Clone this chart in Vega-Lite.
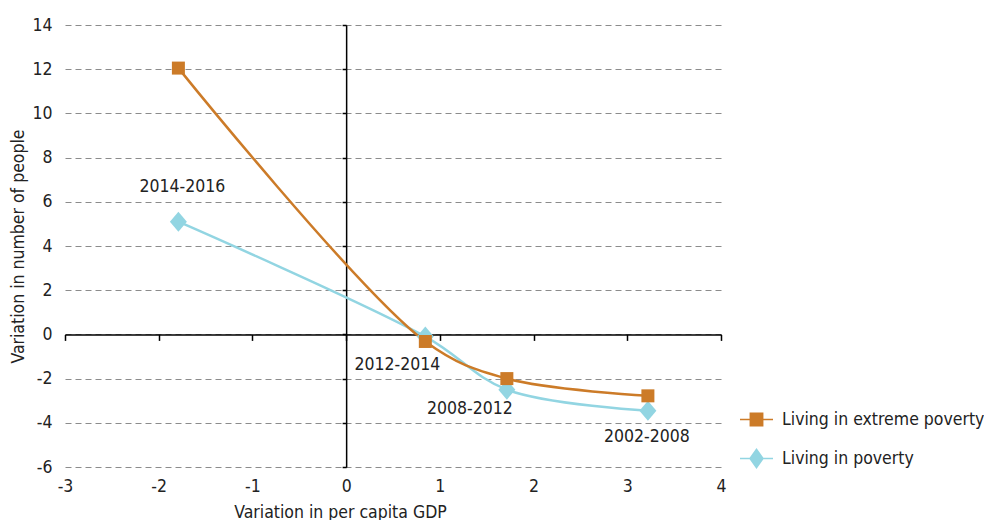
{
  "$schema": "https://vega.github.io/schema/vega-lite/v6.json",
  "width": 656,
  "height": 442,
  "autosize": "none",
  "padding": {"left": 65, "top": 25, "right": 263, "bottom": 53},
  "background": "white",
  "config": {
    "view": {"stroke": null},
    "font": "DejaVu Sans Condensed",
    "axis": {"labelFont": "DejaVu Sans Condensed", "titleFont": "DejaVu Sans Condensed", "labelColor": "#222222", "titleColor": "#222222", "titleFontWeight": "normal", "labelFlush": false, "labelOverlap": false},
    "legend": {"labelFont": "DejaVu Sans Condensed", "disable": false}
  },
  "data": {
    "values": [
      {"gdp": -1.79, "value": 5.1, "series": "Living in poverty", "period": "2014-2016"},
      {"gdp": 0.845, "value": -0.1, "series": "Living in poverty", "period": "2012-2014"},
      {"gdp": 1.715, "value": -2.5, "series": "Living in poverty", "period": "2008-2012"},
      {"gdp": 3.22, "value": -3.45, "series": "Living in poverty", "period": "2002-2008"},
      {"gdp": -1.79, "value": 12.05, "series": "Living in extreme poverty", "period": "2014-2016"},
      {"gdp": 0.845, "value": -0.32, "series": "Living in extreme poverty", "period": "2012-2014"},
      {"gdp": 1.715, "value": -2.0, "series": "Living in extreme poverty", "period": "2008-2012"},
      {"gdp": 3.22, "value": -2.78, "series": "Living in extreme poverty", "period": "2002-2008"}
    ]
  },
  "resolve": {"axis": {"x": "independent", "y": "independent"}},
  "layer": [
    {
      "layer": [
        {
          "mark": {"type": "line", "interpolate": "catmull-rom", "strokeWidth": 2.5},
          "encoding": {
            "x": {"field": "gdp", "type": "quantitative", "scale": {"domain": [-3, 4], "nice": false, "zero": false},
              "axis": {"title": "Variation in per capita GDP", "values": [-3, -2, -1, 0, 1, 2, 3, 4], "labelExpr": "'' + datum.value", "grid": false, "domain": false, "ticks": false, "labelPadding": 10, "labelFontSize": 17.5, "titleFontSize": 17.5, "titleX": 275, "titleY": 36, "titleBaseline": "top", "titleAlign": "center"}},
            "y": {"field": "value", "type": "quantitative", "scale": {"domain": [-6, 14], "nice": false, "zero": false},
              "axis": {"title": "Variation in number of people", "values": [-6, -4, -2, 0, 2, 4, 6, 8, 10, 12, 14], "labelExpr": "'' + datum.value", "grid": true, "gridColor": "#8c8c8c", "gridDash": [6, 4], "gridWidth": 1, "domain": false, "ticks": false, "labelPadding": 13, "labelFontSize": 17.5, "titleFontSize": 17.5, "titleX": -47, "titleY": 221, "titleAngle": -90, "titleBaseline": "middle", "titleAlign": "center"}},
            "stroke": {"field": "series", "type": "nominal", "scale": {"domain": ["Living in extreme poverty", "Living in poverty"], "range": ["#CC7B28", "#92D5E2"]},
              "legend": {"title": null, "orient": "none", "legendX": 675, "legendY": 378, "symbolSize": 1089, "symbolStrokeWidth": 0, "symbolOpacity": 1, "labelFontSize": 17.5, "labelOffset": 9, "rowPadding": 14, "labelColor": "#222222", "labelLimit": 400, "padding": 0}},
            "order": {"field": "gdp", "type": "quantitative"}
          }
        },
        {
          "transform": [{"filter": "datum.series == 'Living in poverty' && datum.period == '2014-2016'"}],
          "mark": {"type": "text", "fontSize": 17.5, "color": "#222222", "dx": 4, "dy": -35, "baseline": "middle", "align": "center"},
          "encoding": {
            "x": {"field": "gdp", "type": "quantitative"},
            "y": {"field": "value", "type": "quantitative"},
            "text": {"field": "period"}
          }
        },
        {
          "transform": [{"filter": "datum.series == 'Living in poverty' && datum.period == '2012-2014'"}],
          "mark": {"type": "text", "fontSize": 17.5, "color": "#222222", "dx": -28, "dy": 28, "baseline": "middle", "align": "center"},
          "encoding": {
            "x": {"field": "gdp", "type": "quantitative"},
            "y": {"field": "value", "type": "quantitative"},
            "text": {"field": "period"}
          }
        },
        {
          "transform": [{"filter": "datum.series == 'Living in poverty' && datum.period == '2008-2012'"}],
          "mark": {"type": "text", "fontSize": 17.5, "color": "#222222", "dx": -37, "dy": 19, "baseline": "middle", "align": "center"},
          "encoding": {
            "x": {"field": "gdp", "type": "quantitative"},
            "y": {"field": "value", "type": "quantitative"},
            "text": {"field": "period"}
          }
        },
        {
          "transform": [{"filter": "datum.series == 'Living in poverty' && datum.period == '2002-2008'"}],
          "mark": {"type": "text", "fontSize": 17.5, "color": "#222222", "dx": -1, "dy": 26, "baseline": "middle", "align": "center"},
          "encoding": {
            "x": {"field": "gdp", "type": "quantitative"},
            "y": {"field": "value", "type": "quantitative"},
            "text": {"field": "period"}
          }
        },
        {
          "transform": [{"filter": "datum.series == 'Living in poverty'"}],
          "mark": {"type": "point", "filled": true, "opacity": 1, "size": 400, "shape": "M-0.85,0L0,-1L0.85,0L0,1Z", "color": "#92D5E2", "strokeWidth": 0},
          "encoding": {
            "x": {"field": "gdp", "type": "quantitative"},
            "y": {"field": "value", "type": "quantitative"}
          }
        }
      ]
    },
    {
      "transform": [{"filter": "datum.series == 'Living in extreme poverty'"}],
      "mark": {"type": "point", "filled": true, "opacity": 1, "size": 400, "shape": "M-0.65,-0.65H0.65V0.65H-0.65Z", "color": "#CC7B28", "strokeWidth": 0},
      "encoding": {
        "x": {"field": "gdp", "type": "quantitative",
          "axis": {"orient": "bottom", "offset": -132.6, "title": null, "labels": false, "grid": false, "domain": true, "domainColor": "#000000", "domainWidth": 1.5, "ticks": true, "tickColor": "#000000", "tickWidth": 1.5, "tickSize": 6, "values": [-3, -2, -1, 0, 1, 2, 3, 4]}},
        "y": {"field": "value", "type": "quantitative",
          "axis": {"orient": "left", "offset": -281.14, "title": null, "labels": false, "grid": false, "domain": true, "domainColor": "#000000", "domainWidth": 1.5, "ticks": true, "tickColor": "#000000", "tickWidth": 1.5, "tickSize": 4, "values": [-6, -4, -2, 0, 2, 4, 6, 8, 10, 12, 14]}}
      }
    },
    {
      "transform": [{"filter": "datum.series == 'none'"}],
      "mark": {"type": "point", "filled": true, "opacity": 1},
      "encoding": {
        "x": {"field": "gdp", "type": "quantitative", "axis": null},
        "y": {"field": "value", "type": "quantitative", "axis": null},
        "color": {"field": "series", "type": "nominal", "scale": {"domain": ["Living in extreme poverty", "Living in poverty"], "range": ["#CC7B28", "#92D5E2"]},
          "legend": {"title": null, "orient": "none", "legendX": 675, "legendY": 378, "symbolSize": 1089, "symbolStrokeWidth": 0, "symbolOpacity": 1, "labelFontSize": 17.5, "labelOffset": 9, "rowPadding": 14, "labelColor": "#222222", "labelLimit": 400, "padding": 0}},
        "shape": {"field": "series", "type": "nominal", "scale": {"domain": ["Living in extreme poverty", "Living in poverty"], "range": ["M-1,-0.045H1V0.045H-1ZM-0.42,-0.42H0.42V0.42H-0.42Z", "M-1,-0.045H1V0.045H-1ZM-0.45,0L0,-0.64L0.45,0L0,0.64Z"]},
          "legend": {"title": null, "orient": "none", "legendX": 675, "legendY": 378, "symbolSize": 1089, "symbolStrokeWidth": 0, "symbolOpacity": 1, "labelFontSize": 17.5, "labelOffset": 9, "rowPadding": 14, "labelColor": "#222222", "labelLimit": 400, "padding": 0}}
      }
    }
  ]
}
